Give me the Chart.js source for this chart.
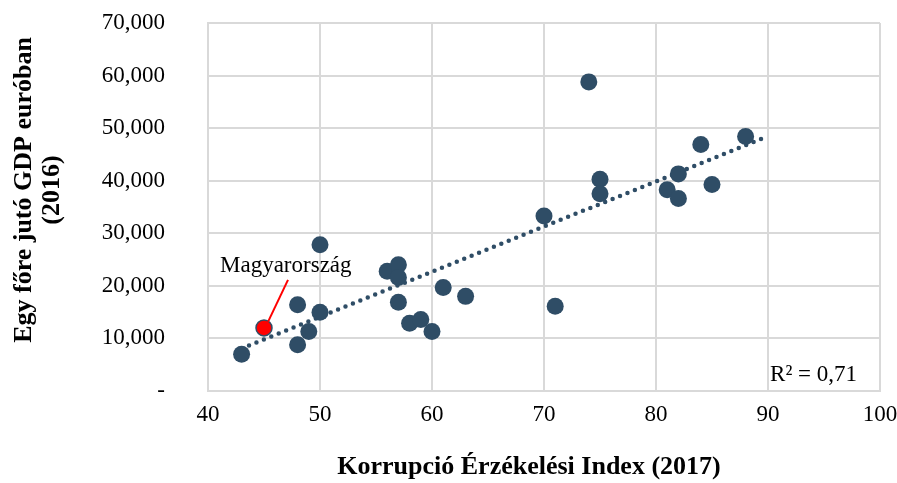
<!DOCTYPE html>
<html>
<head>
<meta charset="utf-8">
<script src="https://cdn.jsdelivr.net/npm/chart.js@4"></script>
<style>
    body { margin: 0; background: #fff; }
    #wrap { width: 897px; height: 483px; }
</style>
</head>
<body>
<div id="wrap"><canvas id="chart"></canvas></div>
<script>
// Korrupció Érzékelési Index (2017) vs GDP/fő (2016)
const cpi = [43, 48, 48, 49, 50, 50, 56, 57, 57, 57, 58, 59, 60, 61, 63, 70, 71, 74, 75, 75, 81, 82, 82, 84, 85, 88];
const gdp = [7000, 16400, 8800, 11300, 27800, 15000, 22800, 24000, 21600, 16900, 12900, 13600, 11300, 19700, 18000, 33300, 16100, 58800, 40300, 37500, 38300, 41300, 36600, 46900, 39300, 48400];
const huCpi = [45];
const huGdp = [12000];
const trendX = [43, 90];
const trendY = [8100, 48450];
const r2Label = 'R² = 0,71';
const huLabel = 'Magyarország';
const xTitle = 'Korrupció Érzékelési Index (2017)';
const yTitle = ['Egy főre jutó GDP euróban', '(2016)'];

const dark = '#2f4d66';
const gridColor = '#d9d9d9';
const serif = "'Liberation Serif', 'Times New Roman', serif";

const toPoints = (xs, ys) => xs.map((x, i) => ({ x: x, y: ys[i] }));

const notes = {
    id: 'notes',
    afterDatasetsDraw(c) {
        const ctx = c.ctx;
        const area = c.chartArea;
        const px = c.scales.x.getPixelForValue(huCpi[0]);
        const py = c.scales.y.getPixelForValue(huGdp[0]);
        ctx.save();
        ctx.strokeStyle = '#ff0000';
        ctx.lineWidth = 2;
        ctx.beginPath();
        ctx.moveTo(px + 4, py - 6);
        ctx.lineTo(px + 24, py - 48);
        ctx.stroke();
        ctx.fillStyle = '#000';
        ctx.font = '23px ' + serif;
        ctx.textBaseline = 'middle';
        ctx.textAlign = 'left';
        ctx.fillText(huLabel, px - 44, py - 62);
        ctx.textAlign = 'right';
        ctx.fillText(r2Label, area.right - 23, area.bottom - 16);

        // axis titles (Excel puts them a little off-centre)
        ctx.textAlign = 'center';
        ctx.font = 'bold 26px ' + serif;
        ctx.fillText(xTitle, (area.left + area.right) / 2 - 15, c.height - 16);
        ctx.translate(24, (area.top + area.bottom) / 2 - 17);
        ctx.rotate(-Math.PI / 2);
        yTitle.forEach((line, i) => ctx.fillText(line, 0, i * 28.5));
        ctx.restore();
    }
};

new Chart(document.getElementById('chart'), {
    type: 'scatter',
    data: {
        datasets: [
            {
                label: 'Magyarország',
                data: toPoints(huCpi, huGdp),
                backgroundColor: '#ff0000',
                borderColor: dark,
                borderWidth: 1.5,
                pointRadius: 8,
                order: 0
            },
            {
                label: 'Országok',
                data: toPoints(cpi, gdp),
                backgroundColor: dark,
                borderColor: dark,
                borderWidth: 0,
                pointRadius: 8.5,
                order: 1
            },
            {
                type: 'line',
                label: 'Trend',
                data: toPoints(trendX, trendY),
                borderColor: dark,
                borderWidth: 4.5,
                borderDash: [0, 8],
                borderCapStyle: 'round',
                pointRadius: 0,
                fill: false,
                order: 2
            }
        ]
    },
    options: {
        responsive: true,
        maintainAspectRatio: false,
        animation: false,
        layout: { padding: { top: 23, right: 17, left: 0, bottom: 0 } },
        plugins: {
            legend: { display: false },
            tooltip: { enabled: false }
        },
        scales: {
            x: {
                type: 'linear',
                min: 40,
                max: 100,
                afterFit: (s) => { s.height = 92; s.paddingRight = 0; s.paddingLeft = 0; },
                grid: { color: gridColor, lineWidth: 2, drawTicks: false },
                border: { color: gridColor, width: 2 },
                ticks: {
                    stepSize: 10,
                    padding: 10,
                    color: '#000',
                    font: { family: serif, size: 23 }
                },
                title: { display: false }
            },
            y: {
                min: 0,
                max: 70000,
                afterFit: (s) => { s.width = 208; s.paddingTop = 0; s.paddingBottom = 0; },
                grid: { color: gridColor, lineWidth: 2, drawTicks: false },
                border: { color: gridColor, width: 2 },
                ticks: {
                    stepSize: 10000,
                    padding: 43,
                    color: '#000',
                    font: { family: serif, size: 23 },
                    callback: (v) => v === 0 ? '-' : v.toLocaleString('en-US')
                },
                title: { display: false }
            }
        }
    },
    plugins: [notes]
});
</script>
</body>
</html>
